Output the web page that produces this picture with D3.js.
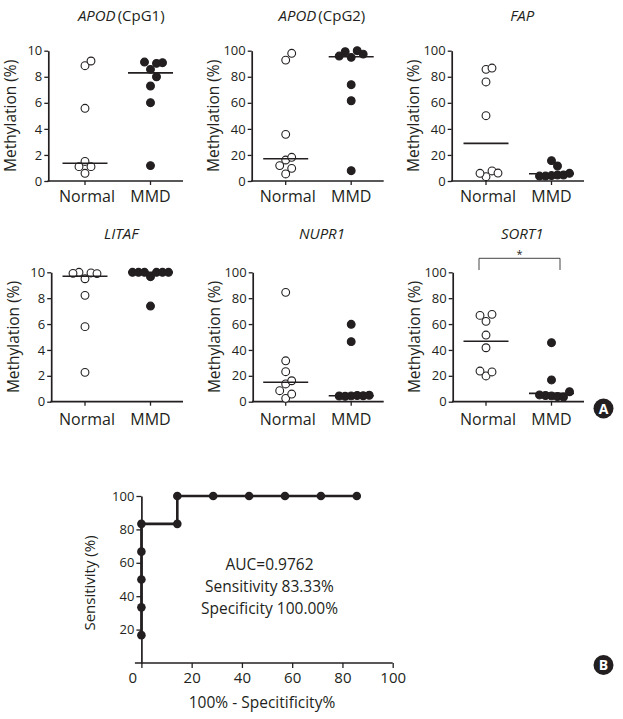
<!DOCTYPE html>
<html><head><meta charset="utf-8">
<script src="https://cdn.jsdelivr.net/npm/d3@7"></script>
<style>
body{margin:0;background:#fff}
svg{display:block}
text{font-family:"Open Sans","Noto Sans",sans-serif;fill:#231f20}
</style>
</head><body>
<svg id="c" width="623" height="719"></svg>
<script>
// ---------- data ----------
const groups = ["Normal", "MMD"];
const genes = ["APOD", "APOD", "FAP", "LITAF", "NUPR1", "SORT1"];
const geneSuffix = ["(CpG1)", "(CpG2)", "", "", "", ""];
const yMaxima = [10, 100, 100, 10, 100, 100];
const ticks10 = [0, 2, 4, 6, 8, 10];
const ticks100 = [0, 20, 40, 60, 80, 100];

const apod1Normal = [8.85, 9.21, 5.58, 1.5, 0.59, 1.10, 1.10];
const apod1MMD    = [1.18, 6.01, 7.29, 8.57, 8.0, 9.03, 9.13, 9.08];
const apod2Normal = [92.8, 98, 35.8, 16.1, 5.4, 18.2, 9.7, 11.8];
const apod2MMD    = [7.9, 61.6, 73.9, 94.9, 100, 99.2, 97.4, 95.9];
const fapNormal   = [50.1, 76.0, 85.7, 86.7, 3.3, 7.7, 5.9, 6.1];
const fapMMD      = [15.6, 11.5, 4.2, 4.6, 3.8, 4.6, 3.8, 5.9];
const litafNormal = [2.27, 5.8, 8.22, 9.5, 9.95, 10.0, 9.9, 9.92];
const litafMMD    = [7.39, 9.66, 10, 10, 10, 10, 10, 10];
const nupr1Normal = [84.5, 31.6, 23.2, 13.7, 2.6, 5.9, 8.5, 16.2];
const nupr1MMD    = [59.8, 46.4, 4.5, 4.8, 4.2, 4.6, 4.4, 5.0];
const sort1Normal = [51.5, 41.7, 62.1, 67.5, 66.7, 19.9, 23.0, 23.7];
const sort1MMD    = [45.6, 16.8, 4.5, 4.0, 4.8, 3.6, 5.2, 7.7];
const medianNormal = [1.36, 17.1, 28.9, 9.69, 15.0, 46.7];
const medianMMD    = [8.3, 95.4, 5.6, 10.0, 4.6, 6.4];

const rocFPR  = [0, 0, 0, 0, 0, 14.29, 14.29, 28.57, 42.86, 57.14, 71.43, 85.71];
const rocSens = [16.67, 33.33, 50, 66.67, 83.33, 83.33, 100, 100, 100, 100, 100, 100];
const rocXTicks = [0, 20, 40, 60, 80, 100];
const rocYTicks = [20, 40, 60, 80, 100];
const rocText = ["AUC=0.9762", "Sensitivity 83.33%", "Specificity 100.00%"];

const panelValues = [
  [apod1Normal, apod1MMD], [apod2Normal, apod2MMD], [fapNormal, fapMMD],
  [litafNormal, litafMMD], [nupr1Normal, nupr1MMD], [sort1Normal, sort1MMD]
];

// ---------- drawing ----------
const ink = "#231f20";
const svg = d3.select("#c");

function dodge(values, y, step) {
  const placed = [];
  const cands = [0];
  for (let k = 1; k < 8; k++) cands.push(k * step, -k * step);
  return values.map(v => {
    const py = y(v);
    for (const dx of cands) {
      if (placed.every(p => Math.abs(p.dx - dx) >= step - 0.01 || Math.abs(p.y - py) >= 8.4)) {
        placed.push({dx, y: py});
        return dx;
      }
    }
    return 0;
  });
}

function drawPanel(i) {
  const col = i % 3, row = Math.floor(i / 3);
  const yZero = row ? 401.7 : 181, yTop = row ? 272.3 : 50.7;
  const axisX = row ? [51.2, 252.7, 452.7][col] : [48.3, 251.7, 451.7][col];
  const xN = [85, 285.7, 486][col];
  const x = d3.scalePoint().domain(groups).range([xN, xN + 65.5]);
  const y = d3.scaleLinear().domain([0, yMaxima[i]]).range([yZero, yTop]);
  const g = svg.append("g");

  // y axis
  const ya = g.append("g").attr("transform", `translate(${axisX},0)`)
    .call(d3.axisLeft(y).tickValues(yMaxima[i] === 10 ? ticks10 : ticks100).tickSize(4).tickSizeOuter(0).tickPadding(2));
  ya.select(".domain").attr("stroke", ink).attr("stroke-width", 1.7);
  ya.selectAll(".tick line").attr("stroke", ink).attr("stroke-width", 1.3);
  ya.selectAll(".tick text").style("font-family", "'Open Sans',sans-serif").style("font-size", "13px").attr("fill", ink);

  // x axis
  const xEnd = x("MMD") + 32.5;
  g.append("line").attr("x1", axisX - 0.8).attr("x2", xEnd).attr("y1", yZero).attr("y2", yZero)
    .attr("stroke", ink).attr("stroke-width", 1.7);
  groups.forEach(gr => {
    g.append("line").attr("x1", x(gr)).attr("x2", x(gr)).attr("y1", yZero).attr("y2", yZero + 4)
      .attr("stroke", ink).attr("stroke-width", 1.3);
    g.append("text").attr("x", x(gr) + (gr === "Normal" ? 2 : 0)).attr("y", yZero + (row ? 23 : 20.5))
      .attr("text-anchor", "middle").style("font-size", "16px").text(gr);
  });

  // y label
  g.append("text").attr("transform", `translate(${axisX - 32.5},${(yZero + yTop) / 2}) rotate(-90)`)
    .attr("text-anchor", "middle").style("font-size", "15.5px").text("Methylation (%)");

  // title
  const t = g.append("text").attr("x", (x("Normal") + x("MMD")) / 2 + 3.5).attr("y", row ? 239 : 20.7)
    .attr("text-anchor", "middle").style("font-size", "15px");
  t.append("tspan").style("font-style", "italic").text(genes[i]);
  if (geneSuffix[i]) t.append("tspan").attr("dx", 2).text(geneSuffix[i]);

  // points
  groups.forEach((gr, gi) => {
    const vals = panelValues[i][gi];
    const offs = dodge(vals, y, 6);
    g.selectAll(null).data(vals).join("circle")
      .attr("cx", (d, k) => x(gr) + offs[k]).attr("cy", d => y(d)).attr("r", 3.9)
      .attr("fill", gi === 0 ? "#fff" : ink).attr("stroke", ink).attr("stroke-width", 1.1);
    const m = gi === 0 ? medianNormal[i] : medianMMD[i];
    g.append("line").attr("x1", x(gr) - 22.5).attr("x2", x(gr) + 22.5)
      .attr("y1", y(m)).attr("y2", y(m)).attr("stroke", ink).attr("stroke-width", 1.6);
  });

  if (genes[i] === "SORT1") {
    const bx1 = x("Normal") - 7, bx2 = x("MMD") + 8.5, by = 258.3;
    g.append("path").attr("d", `M${bx1},${by + 11.7}V${by}H${bx2}V${by + 11.7}`)
      .attr("fill", "none").attr("stroke", "#444").attr("stroke-width", 1);
    g.append("text").attr("x", (bx1 + bx2) / 2).attr("y", by - 0.5).attr("text-anchor", "middle")
      .style("font-size", "11px").text("*");
  }
}
for (let i = 0; i < 6; i++) drawPanel(i);

// ---------- ROC ----------
(function () {
  const x = d3.scaleLinear().domain([0, 100]).range([141.4, 392.7]);
  const y = d3.scaleLinear().domain([0, 100]).range([663, 496]);
  const g = svg.append("g");
  const ya = g.append("g").attr("transform", `translate(${x(0)},0)`)
    .call(d3.axisLeft(y).tickValues(rocYTicks).tickSize(5).tickSizeOuter(0).tickPadding(2));
  ya.select(".domain").attr("stroke", ink).attr("stroke-width", 1.7);
  ya.selectAll(".tick line").attr("stroke", ink).attr("stroke-width", 1.3);
  ya.selectAll(".tick text").style("font-family", "'Open Sans',sans-serif").style("font-size", "13px").attr("fill", ink);

  const xa = g.append("g").attr("transform", `translate(0,${y(0)})`)
    .call(d3.axisBottom(x).tickValues(rocXTicks).tickSize(5).tickSizeOuter(0).tickPadding(4));
  xa.select(".domain").remove();
  g.append("line").attr("x1", x(0) - 6.5).attr("x2", x(100)).attr("y1", y(0)).attr("y2", y(0))
    .attr("stroke", ink).attr("stroke-width", 1.7);
  xa.selectAll(".tick line").attr("stroke", ink).attr("stroke-width", 1.3);
  xa.selectAll(".tick text").style("font-family", "'Open Sans',sans-serif").style("font-size", "15px").attr("fill", ink)
    .attr("dx", d => d === 0 ? -9 : 0);

  const pts = rocFPR.map((v, k) => [x(v), y(rocSens[k])]);
  g.append("path").attr("d", d3.line()(pts)).attr("fill", "none").attr("stroke", ink).attr("stroke-width", 2.6);
  g.selectAll(null).data(pts).join("circle").attr("cx", d => d[0]).attr("cy", d => d[1]).attr("r", 4.3).attr("fill", ink);

  rocText.forEach((s, k) => {
    g.append("text").attr("x", 269.5).attr("y", 570 + k * 22).attr("text-anchor", "middle")
      .style("font-size", "15.5px").text(s);
  });
  g.append("text").attr("transform", `translate(95,583) rotate(-90)`).attr("text-anchor", "middle")
    .style("font-size", "15px").text("Sensitivity (%)");
  g.append("text").attr("x", 262).attr("y", 708).attr("text-anchor", "middle")
    .style("font-size", "15.5px").text("100% - Specitificity%");
})();

// ---------- badges ----------
[["A", 408.5], ["B", 665]].forEach(([l, cy]) => {
  svg.append("circle").attr("cx", 603.5).attr("cy", cy).attr("r", 10).attr("fill", ink);
  svg.append("text").attr("x", 603.5).attr("y", cy + 5).attr("text-anchor", "middle")
    .style("font-size", "14px").style("font-weight", "bold").style("fill", "#fff").text(l);
});
</script>
</body></html>
